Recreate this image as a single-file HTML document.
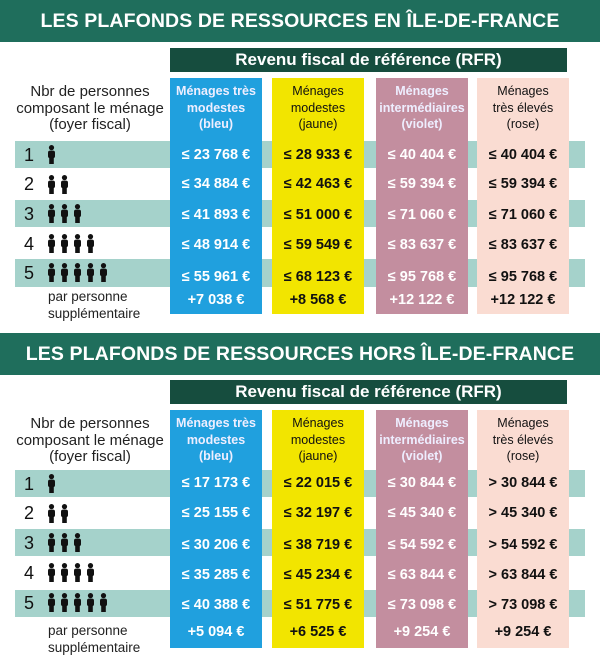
<!DOCTYPE html>
<html><head><meta charset="utf-8"><style>
*{margin:0;padding:0;box-sizing:border-box}
body{width:600px;height:658px;background:#fff;position:relative;overflow:hidden;font-family:"Liberation Sans",sans-serif}
.a{position:absolute}
.ban{left:0;width:600px;height:42px;background:#1f6e5c;color:#fff;font-weight:bold;font-size:19.5px;text-align:center;line-height:42px;letter-spacing:0.1px}
.rfr{left:170px;width:397px;height:24px;background:#164d3e;color:#fff;font-weight:bold;font-size:17px;text-align:center;line-height:24px}
.st{left:15px;width:570px;height:27px;background:#a5d2cb}
.col{width:92px}
.b{background:#20a0de;color:#fff;left:170px}
.y{background:#f2e500;color:#111;left:272px}
.v{background:#c38e9f;color:#fff;left:376px}
.r{background:#fadcd2;color:#111;left:477px}
.hd{font-size:12.5px;line-height:16.5px;text-align:center;width:92px}
.b .hd,.v .hd{font-weight:bold;color:#eef}
.val{position:absolute;left:0;width:92px;text-align:center;font-weight:bold;font-size:14.5px;line-height:18px}
.lbl{left:5px;width:170px;text-align:center;font-size:15px;line-height:16.5px;color:#222}
.num{left:24px;font-size:18px;color:#111;line-height:20px}
.pp{left:48px;font-size:13.5px;line-height:16.5px;color:#222}
</style></head><body>
<svg width="0" height="0" style="position:absolute"><defs><g id="p"><circle cx="4.5" cy="2.6" r="2.6" fill="#111"/><rect x="1" y="5.6" width="7" height="7.5" rx="2" fill="#111"/><rect x="2.2" y="11" width="4.6" height="8" fill="#111"/></g></defs></svg>

<!-- SECTION 1 -->
<div class="a ban" style="top:0">LES PLAFONDS DE RESSOURCES EN ÎLE-DE-FRANCE</div>
<div class="a rfr" style="top:48px">Revenu fiscal de référence (RFR)</div>
<div class="a lbl" style="top:84px">Nbr de personnes<br>composant le ménage<br>(foyer fiscal)</div>
<div class="a st" style="top:141px"></div>
<div class="a st" style="top:200px"></div>
<div class="a st" style="top:259px;height:28px"></div>
<div class="a num" style="top:145px">1</div>
<div class="a num" style="top:174px">2</div>
<div class="a num" style="top:204px">3</div>
<div class="a num" style="top:234px">4</div>
<div class="a num" style="top:263px">5</div>
<svg class="a" style="left:47px;top:145px" width="70" height="20"><use href="#p"/></svg>
<svg class="a" style="left:47px;top:175px" width="70" height="20"><use href="#p"/><use href="#p" x="13"/></svg>
<svg class="a" style="left:47px;top:204px" width="70" height="20"><use href="#p"/><use href="#p" x="13"/><use href="#p" x="26"/></svg>
<svg class="a" style="left:47px;top:234px" width="70" height="20"><use href="#p"/><use href="#p" x="13"/><use href="#p" x="26"/><use href="#p" x="39"/></svg>
<svg class="a" style="left:47px;top:263px" width="70" height="20"><use href="#p"/><use href="#p" x="13"/><use href="#p" x="26"/><use href="#p" x="39"/><use href="#p" x="52"/></svg>
<div class="a pp" style="top:289px">par personne<br>supplémentaire</div>

<div class="a col b" style="top:78px;height:236px"><div class="hd" style="margin-top:5px">Ménages très<br>modestes<br>(bleu)</div>
<div class="val" style="top:68px">≤ 23 768 €</div><div class="val" style="top:97px">≤ 34 884 €</div><div class="val" style="top:128px">≤ 41 893 €</div><div class="val" style="top:158px">≤ 48 914 €</div><div class="val" style="top:190px">≤ 55 961 €</div><div class="val" style="top:213px">+7 038 €</div></div>
<div class="a col y" style="top:78px;height:236px"><div class="hd" style="margin-top:5px">Ménages<br>modestes<br>(jaune)</div>
<div class="val" style="top:68px">≤ 28 933 €</div><div class="val" style="top:97px">≤ 42 463 €</div><div class="val" style="top:128px">≤ 51 000 €</div><div class="val" style="top:158px">≤ 59 549 €</div><div class="val" style="top:190px">≤ 68 123 €</div><div class="val" style="top:213px">+8 568 €</div></div>
<div class="a col v" style="top:78px;height:236px"><div class="hd" style="margin-top:5px">Ménages<br>intermédiaires<br>(violet)</div>
<div class="val" style="top:68px">≤ 40 404 €</div><div class="val" style="top:97px">≤ 59 394 €</div><div class="val" style="top:128px">≤ 71 060 €</div><div class="val" style="top:158px">≤ 83 637 €</div><div class="val" style="top:190px">≤ 95 768 €</div><div class="val" style="top:213px">+12 122 €</div></div>
<div class="a col r" style="top:78px;height:236px"><div class="hd" style="margin-top:5px">Ménages<br>très élevés<br>(rose)</div>
<div class="val" style="top:68px">≤ 40 404 €</div><div class="val" style="top:97px">≤ 59 394 €</div><div class="val" style="top:128px">≤ 71 060 €</div><div class="val" style="top:158px">≤ 83 637 €</div><div class="val" style="top:190px">≤ 95 768 €</div><div class="val" style="top:213px">+12 122 €</div></div>

<!-- SECTION 2 -->
<div class="a ban" style="top:333px">LES PLAFONDS DE RESSOURCES HORS ÎLE-DE-FRANCE</div>
<div class="a rfr" style="top:380px">Revenu fiscal de référence (RFR)</div>
<div class="a lbl" style="top:416px">Nbr de personnes<br>composant le ménage<br>(foyer fiscal)</div>
<div class="a st" style="top:470px"></div>
<div class="a st" style="top:529px"></div>
<div class="a st" style="top:590px;height:27px"></div>
<div class="a num" style="top:474px">1</div>
<div class="a num" style="top:503px">2</div>
<div class="a num" style="top:533px">3</div>
<div class="a num" style="top:563px">4</div>
<div class="a num" style="top:593px">5</div>
<svg class="a" style="left:47px;top:474px" width="70" height="20"><use href="#p"/></svg>
<svg class="a" style="left:47px;top:504px" width="70" height="20"><use href="#p"/><use href="#p" x="13"/></svg>
<svg class="a" style="left:47px;top:533px" width="70" height="20"><use href="#p"/><use href="#p" x="13"/><use href="#p" x="26"/></svg>
<svg class="a" style="left:47px;top:563px" width="70" height="20"><use href="#p"/><use href="#p" x="13"/><use href="#p" x="26"/><use href="#p" x="39"/></svg>
<svg class="a" style="left:47px;top:593px" width="70" height="20"><use href="#p"/><use href="#p" x="13"/><use href="#p" x="26"/><use href="#p" x="39"/><use href="#p" x="52"/></svg>
<div class="a pp" style="top:623px">par personne<br>supplémentaire</div>

<div class="a col b" style="top:410px;height:238px"><div class="hd" style="margin-top:5px">Ménages très<br>modestes<br>(bleu)</div>
<div class="val" style="top:64px">≤ 17 173 €</div><div class="val" style="top:94px">≤ 25 155 €</div><div class="val" style="top:126px">≤ 30 206 €</div><div class="val" style="top:156px">≤ 35 285 €</div><div class="val" style="top:186px">≤ 40 388 €</div><div class="val" style="top:213px">+5 094 €</div></div>
<div class="a col y" style="top:410px;height:238px"><div class="hd" style="margin-top:5px">Ménages<br>modestes<br>(jaune)</div>
<div class="val" style="top:64px">≤ 22 015 €</div><div class="val" style="top:94px">≤ 32 197 €</div><div class="val" style="top:126px">≤ 38 719 €</div><div class="val" style="top:156px">≤ 45 234 €</div><div class="val" style="top:186px">≤ 51 775 €</div><div class="val" style="top:213px">+6 525 €</div></div>
<div class="a col v" style="top:410px;height:238px"><div class="hd" style="margin-top:5px">Ménages<br>intermédiaires<br>(violet)</div>
<div class="val" style="top:64px">≤ 30 844 €</div><div class="val" style="top:94px">≤ 45 340 €</div><div class="val" style="top:126px">≤ 54 592 €</div><div class="val" style="top:156px">≤ 63 844 €</div><div class="val" style="top:186px">≤ 73 098 €</div><div class="val" style="top:213px">+9 254 €</div></div>
<div class="a col r" style="top:410px;height:238px"><div class="hd" style="margin-top:5px">Ménages<br>très élevés<br>(rose)</div>
<div class="val" style="top:64px">&gt; 30 844 €</div><div class="val" style="top:94px">&gt; 45 340 €</div><div class="val" style="top:126px">&gt; 54 592 €</div><div class="val" style="top:156px">&gt; 63 844 €</div><div class="val" style="top:186px">&gt; 73 098 €</div><div class="val" style="top:213px">+9 254 €</div></div>
</body></html>
